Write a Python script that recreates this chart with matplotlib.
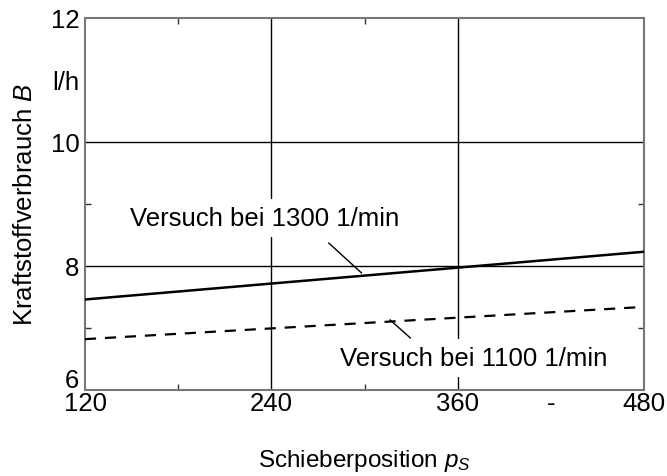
import matplotlib
matplotlib.use("Agg")
import matplotlib.pyplot as plt
import matplotlib.transforms as mtransforms
from matplotlib.ticker import FixedLocator

plt.rcParams['font.family'] = ['Liberation Sans', 'DejaVu Sans']
plt.rcParams['mathtext.fontset'] = 'custom'
plt.rcParams['mathtext.it'] = 'Liberation Sans:italic'
plt.rcParams['mathtext.rm'] = 'Liberation Sans'

# Schieberposition und Kraftstoffverbrauch
position = [120, 480]
verbrauch_1300 = [7.46, 8.23]
verbrauch_1100 = [6.82, 7.34]

x_major = [120, 240, 360, 420, 480]
x_major_labels = ["120", "240", "360", "-", "480"]
x_minor = [180, 300, 420]
y_major = [6, 8, 10, 11, 12]
y_major_labels = ["6", "8", "10", "l/h", "12"]
y_minor = [7, 9, 11]

label_1300 = "Versuch bei 1300 1/min"
label_1100 = "Versuch bei 1100 1/min"

FS = 18.5

fig = plt.figure(figsize=(6.67, 4.77), dpi=100)
ax = fig.add_axes([85/667, 1-391/477, (644-85)/667, (391-19)/477])
ax.set_xlim(120, 480)
ax.set_ylim(6, 12)

# Gitterlinien
for gx in [240, 360]:
    ax.axvline(gx, color='black', lw=1.0, zorder=1)
for gy in [8, 10]:
    ax.axhline(gy, color='black', lw=1.0, zorder=1)

ax.plot(position, verbrauch_1300, color='black', lw=1.8, zorder=3)
ax.plot(position, verbrauch_1100, color='black', lw=1.6, ls=(0, (5, 4)), zorder=3)

bbox = dict(facecolor='white', edgecolor='none', pad=5)
ax.text(149, 8.77, label_1300, fontsize=FS, ha='left', va='center', bbox=bbox, zorder=4)
ax.text(284, 6.52, label_1100, fontsize=FS, ha='left', va='center', bbox=bbox, zorder=4)

# Bezugslinien
ax.plot([277, 298], [8.37, 7.89], color='black', lw=1.0, zorder=5)
ax.plot([316.5, 329.5], [7.13, 6.84], color='black', lw=1.0, zorder=5)

for s in ax.spines.values():
    s.set_color('#777777')
    s.set_linewidth(1.5)

ax.xaxis.set_major_locator(FixedLocator(x_major))
ax.set_xticklabels(x_major_labels, fontsize=FS)
ax.xaxis.set_minor_locator(FixedLocator(x_minor))
ax.yaxis.set_major_locator(FixedLocator(y_major))
ax.set_yticklabels(y_major_labels, fontsize=FS)
ax.yaxis.set_minor_locator(FixedLocator(y_minor))
ax.tick_params(which='both', direction='in', top=True, right=True, length=4,
               width=1.0, color='#333333')
ax.tick_params(axis='x', which='major', length=0, pad=1)
ax.tick_params(axis='y', which='major', length=0, pad=4)

# "6" sits a little higher so it clears the "120"
for lab in ax.get_yticklabels():
    if lab.get_text() == "6":
        lab.set_transform(lab.get_transform() +
                          mtransforms.ScaledTranslation(0, 12/100, fig.dpi_scale_trans))

ax.set_xlabel(r"Schieberposition $p_S$", fontsize=17.5, labelpad=23)
ax.set_ylabel(r"Kraftstoffverbrauch $B$", fontsize=FS, labelpad=10)

fig.savefig("out.png", dpi=100)
